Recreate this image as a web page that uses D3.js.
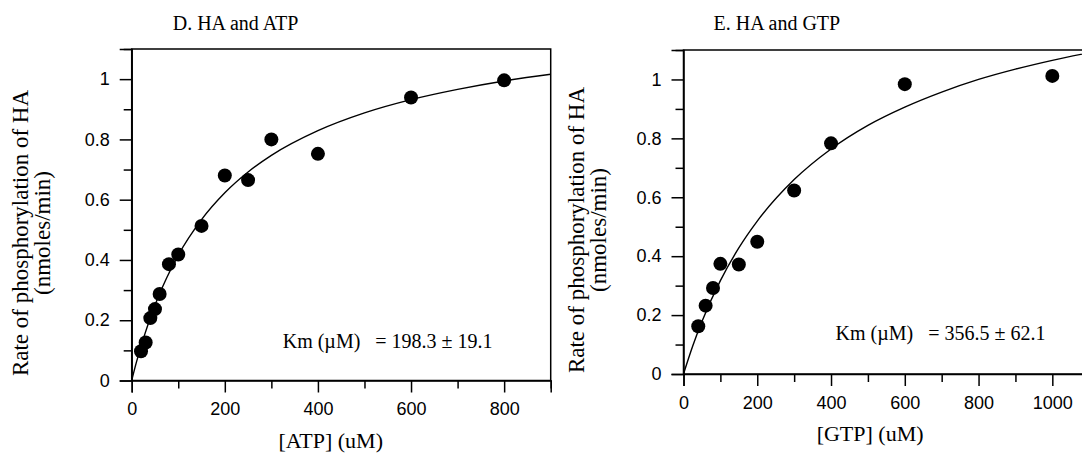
<!DOCTYPE html>
<html>
<head>
<meta charset="utf-8">
<script src="https://cdnjs.cloudflare.com/ajax/libs/d3/7.8.5/d3.min.js"></script>
<style>
  body { margin: 0; background: #fff; }
  svg { display: block; }
  .tick text { font-family: "Liberation Sans", Arial, sans-serif; }
</style>
</head>
<body>
<script>
// ATP panel (D)
const atpConc = [20, 30, 40, 50, 60, 80, 100, 150, 200, 250, 300, 400, 600, 800];
const atpRate = [0.097, 0.126, 0.207, 0.237, 0.287, 0.386, 0.418, 0.513, 0.68, 0.665, 0.80, 0.752, 0.939, 0.996];
const atpFitX = [0, 10, 25, 50, 75, 100, 150, 200, 250, 300, 400, 500, 600, 700, 800, 900];
const atpFitY = [0, 0.060, 0.139, 0.250, 0.340, 0.416, 0.534, 0.623, 0.692, 0.747, 0.829, 0.888, 0.932, 0.966, 0.994, 1.016];

// GTP panel (E)
const gtpConc = [40, 60, 80, 100, 150, 200, 300, 400, 600, 1000];
const gtpRate = [0.162, 0.232, 0.292, 0.374, 0.372, 0.449, 0.623, 0.783, 0.984, 1.012];
const gtpFitX = [0, 25, 50, 100, 150, 200, 300, 400, 500, 600, 700, 800, 900, 1000, 1100];
const gtpFitY = [0, 0.095, 0.178, 0.317, 0.428, 0.519, 0.660, 0.764, 0.844, 0.906, 0.957, 1.000, 1.035, 1.065, 1.091];

const yMajor = [0, 0.2, 0.4, 0.6, 0.8, 1];
const yMinor = [0.1, 0.3, 0.5, 0.7, 0.9, 1.1];
const atpMajor = [0, 200, 400, 600, 800];
const atpMinor = [100, 300, 500, 700, 900];
const gtpMajor = [0, 200, 400, 600, 800, 1000];
const gtpMinor = [100, 300, 500, 700, 900, 1100];

const svg = d3.select("body").append("svg")
    .attr("width", 1082)
    .attr("height", 457);

function drawPanel(p) {
    const g = svg.append("g").attr("transform", `translate(${p.left},${p.top})`);

    const x = d3.scaleLinear().domain([0, p.xMax]).range([0, p.width]);
    const y = d3.scaleLinear().domain([0, 1.1]).range([p.height, 0]);

    // frame (top + right)
    g.append("rect")
        .attr("x", 0).attr("y", 0)
        .attr("width", p.width).attr("height", p.height)
        .attr("fill", "none").attr("stroke", "#000").attr("stroke-width", 1.5);

    // minor ticks
    g.append("g").attr("transform", `translate(0,${p.height})`)
        .call(d3.axisBottom(x).tickValues(p.xMinor).tickSize(8).tickFormat(""))
        .call(a => a.select(".domain").remove());
    g.append("g")
        .call(d3.axisLeft(y).tickValues(yMinor).tickSize(8).tickFormat(""))
        .call(a => a.select(".domain").remove());

    // major ticks
    const xa = g.append("g").attr("transform", `translate(0,${p.height})`)
        .call(d3.axisBottom(x).tickValues(p.xMajor).tickSize(12).tickPadding(10).tickFormat(d => d));
    const ya = g.append("g")
        .call(d3.axisLeft(y).tickValues(yMajor).tickSize(12).tickPadding(10).tickFormat(d => d));
    [xa, ya].forEach(a => a.selectAll("text").attr("font-size", 18).attr("fill", "#000"));
    g.selectAll(".tick line").attr("stroke-width", 1.5);
    g.selectAll(".domain").attr("stroke-width", 1.5);

    // fitted curve
    const line = d3.line()
        .x((d, i) => x(p.fitX[i]))
        .y(d => y(d))
        .curve(d3.curveMonotoneX);
    g.append("path")
        .datum(p.fitY)
        .attr("d", line)
        .attr("fill", "none")
        .attr("stroke", "#000")
        .attr("stroke-width", 1.4);

    g.selectAll("circle.pt")
        .data(p.conc)
        .enter().append("circle")
        .attr("class", "pt")
        .attr("cx", d => x(d))
        .attr("cy", (d, i) => y(p.rate[i]))
        .attr("r", 7)
        .attr("fill", "#000");

    const serif = "'Liberation Serif', 'Times New Roman', serif";

    g.append("text")
        .attr("x", p.titleX).attr("y", p.titleY)
        .attr("font-family", serif).attr("font-size", 20)
        .text(p.title);

    g.append("text")
        .attr("x", p.kmX).attr("y", p.kmY)
        .attr("font-family", serif).attr("font-size", 20)
        .attr("xml:space", "preserve")
        .text(p.km);

    g.append("text")
        .attr("x", p.width * p.xLabelFrac).attr("y", p.xLabelY)
        .attr("text-anchor", "middle")
        .attr("font-family", serif).attr("font-size", 22)
        .text(p.xLabel);

    const yl = g.append("text")
        .attr("transform", `translate(${p.yLabelX},${p.yLabelMid}) rotate(-90)`)
        .attr("text-anchor", "middle")
        .attr("font-family", serif).attr("font-size", 23);
    yl.append("tspan").attr("x", 0).attr("dy", 0).text("Rate of phosphorylation of HA");
    yl.append("tspan").attr("x", 0).attr("dy", 22).text("(nmoles/min)");
}

drawPanel({
    left: 131.7, top: 49, width: 419, height: 331.5, xMax: 900,
    xMajor: atpMajor, xMinor: atpMinor,
    conc: atpConc, rate: atpRate, fitX: atpFitX, fitY: atpFitY,
    title: "D. HA and ATP", titleX: 41, titleY: -19,
    km: "Km (\u00b5M)   = 198.3 \u00b1 19.1", kmX: 151, kmY: 299,
    xLabel: "[ATP] (uM)", xLabelFrac: 0.475, xLabelY: 399,
    yLabelX: -104, yLabelMid: 184
});

drawPanel({
    left: 683.5, top: 50, width: 405.7, height: 324, xMax: 1100,
    xMajor: gtpMajor, xMinor: gtpMinor,
    conc: gtpConc, rate: gtpRate, fitX: gtpFitX, fitY: gtpFitY,
    title: "E. HA and GTP", titleX: 30, titleY: -20,
    km: "Km (\u00b5M)   = 356.5 \u00b1 62.1", kmX: 152, kmY: 290,
    xLabel: "[GTP] (uM)", xLabelFrac: 0.46, xLabelY: 391,
    yLabelX: -100, yLabelMid: 180
});
</script>
</body>
</html>
